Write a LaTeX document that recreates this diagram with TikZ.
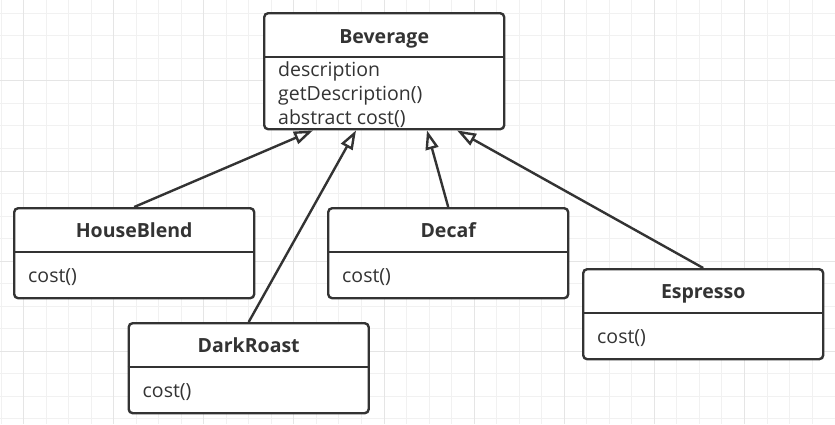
\documentclass[tikz,border=0pt]{standalone}
\usepackage{fontspec}
\setmainfont{Open Sans}
\usetikzlibrary{arrows.meta}
\definecolor{ink}{HTML}{333333}
\definecolor{gridminor}{HTML}{F1F1F1}
\definecolor{gridmajor}{HTML}{E5E5E5}
\begin{document}
\begin{tikzpicture}[x=1pt,y=-1pt,
  classbox/.style={draw=ink, line width=2.4pt, rounded corners=4pt, fill=white,
    minimum width=240pt, minimum height=90pt, inner sep=0pt, anchor=north west},
  divider/.style={draw=ink, line width=2.4pt},
  title/.style={anchor=base, font=\fontsize{19.5}{24}\selectfont\bfseries, text=ink, inner sep=0pt},
  member/.style={anchor=base west, font=\fontsize{19.5}{24}\selectfont, text=ink, inner sep=0pt},
  inherit/.style={draw=ink, line width=2.4pt, -{Triangle[open, length=19pt, width=13pt]}}
]
\useasboundingbox (0,0) rectangle (835,424);
\fill[white] (0,0) rectangle (835,424);
% grid
\foreach \k in {0,...,36} {
  \draw[gridminor, line width=1pt] ({1+22.53*\k},0) -- ({1+22.53*\k},424);
}
\foreach \k in {0,...,18} {
  \draw[gridminor, line width=1pt] (0,{13.3+22.53*\k}) -- (835,{13.3+22.53*\k});
}
\foreach \j in {0,...,8} {
  \draw[gridmajor, line width=1pt] ({1+22.53*(1+4*\j)},0) -- ({1+22.53*(1+4*\j)},424);
}
\foreach \j in {0,...,3} {
  \draw[gridmajor, line width=1pt] (0,{13.3+22.53*(3+4*\j)}) -- (835,{13.3+22.53*(3+4*\j)});
}

% Beverage
\node[classbox, minimum height=116pt] (bev) at (263,12) {};
\draw[divider] ([yshift=-45pt]bev.north west) -- ([yshift=-45pt]bev.north east);
\node[title] (bevt) at ([yshift=-31pt]bev.north) {Beverage};
\node[member] (bev1) at ([xshift=15pt,yshift=-64pt]bev.north west) {description};
\node[member] (bev2) at ([xshift=15pt,yshift=-88pt]bev.north west) {getDescription()};
\node[member] (bev3) at ([xshift=15pt,yshift=-112pt]bev.north west) {abstract cost()};

% HouseBlend
\node[classbox] (hb) at (13,207) {};
\draw[divider] ([yshift=-45pt]hb.north west) -- ([yshift=-45pt]hb.north east);
\node[title] (hbt) at ([yshift=-30pt]hb.north) {HouseBlend};
\node[member] (hb1) at ([xshift=15pt,yshift=-75pt]hb.north west) {cost()};

% Decaf
\node[classbox] (dc) at (327,207) {};
\draw[divider] ([yshift=-45pt]dc.north west) -- ([yshift=-45pt]dc.north east);
\node[title] (dct) at ([yshift=-30pt]dc.north) {Decaf};
\node[member] (dc1) at ([xshift=15pt,yshift=-75pt]dc.north west) {cost()};

% DarkRoast
\node[classbox] (dr) at (127.5,322) {};
\draw[divider] ([yshift=-45pt]dr.north west) -- ([yshift=-45pt]dr.north east);
\node[title] (drt) at ([yshift=-30pt]dr.north) {DarkRoast};
\node[member] (dr1) at ([xshift=15pt,yshift=-75pt]dr.north west) {cost()};

% Espresso
\node[classbox] (es) at (582,268) {};
\draw[divider] ([yshift=-45pt]es.north west) -- ([yshift=-45pt]es.north east);
\node[title] (est) at ([yshift=-30pt]es.north) {Espresso};
\node[member] (es1) at ([xshift=15pt,yshift=-75pt]es.north west) {cost()};

% inheritance arrows
\draw[inherit] (hb.north) -- ([xshift=50pt]bev.south west);
\draw[inherit] (dr.north) -- ([xshift=93pt]bev.south west);
\draw[inherit] (dc.north) -- ([xshift=164pt]bev.south west);
\draw[inherit] (es.north) -- ([xshift=194pt]bev.south west);
\end{tikzpicture}
\end{document}
